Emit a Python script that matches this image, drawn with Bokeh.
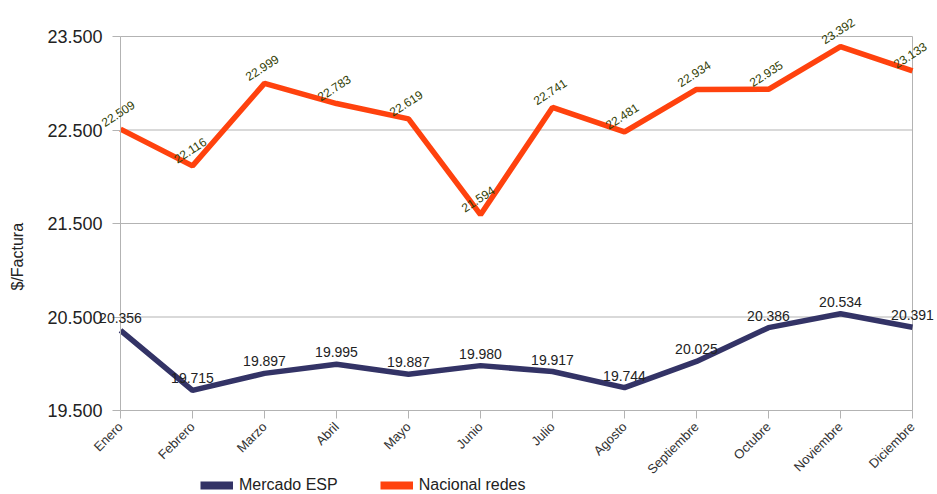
from math import pi
from bokeh.plotting import figure
from bokeh.layouts import column
from bokeh.models import (ColumnDataSource, Label, Legend, LegendItem, Title,
                          NumeralTickFormatter, FixedTicker, Range1d)
from bokeh.embed import file_html
from bokeh.resources import INLINE

months = ["Enero", "Febrero", "Marzo", "Abril", "Mayo", "Junio", "Julio",
          "Agosto", "Septiembre", "Octubre", "Noviembre", "Diciembre"]
mercado_esp = [20.356, 19.715, 19.897, 19.995, 19.887, 19.980, 19.917,
               19.744, 20.025, 20.386, 20.534, 20.391]
nacional_redes = [22.509, 22.116, 22.999, 22.783, 22.619, 21.594, 22.741,
                  22.481, 22.934, 22.935, 23.392, 23.133]
y_ticks = [19.5, 20.5, 21.5, 22.5, 23.5]
series_names = ["Mercado ESP", "Nacional redes"]
y_title = "$/Factura"

NAVY = "#333366"
ORANGE = "#ff420e"
GRID = "#b3b3b3"
FONT = "Liberation Sans"

idx = list(range(len(months)))
src = ColumnDataSource(dict(x=idx, m=mercado_esp, n=nacional_redes))

# ---- layout (pixels) ----
W, H = 935, 476
FR_L, FR_R, FR_T, FR_B = 30, 935, 2, 476          # drawing frame (wide, so labels are not clipped)
AX_L, AX_R, AX_T, AX_B = 120, 912, 36, 410         # where the chart's axes sit
px_x = (AX_R - AX_L) / (idx[-1] - idx[0])
px_y = (AX_B - AX_T) / (y_ticks[-1] - y_ticks[0])
x_range = Range1d(idx[0] - (AX_L - FR_L) / px_x, idx[-1] + (FR_R - AX_R) / px_x)
y_range = Range1d(y_ticks[0] - (FR_B - AX_B) / px_y, y_ticks[-1] + (AX_T - FR_T) / px_y)

p = figure(width=W, height=H, output_backend="svg", toolbar_location=None,
           x_range=x_range, y_range=y_range,
           min_border_left=FR_L, min_border_right=W - FR_R,
           min_border_top=FR_T, min_border_bottom=H - FR_B)

p.background_fill_color = "white"
p.border_fill_color = "white"
p.outline_line_color = None
p.xgrid.grid_line_color = None
p.ygrid.grid_line_color = None

# gridlines and right border of the plot area
n_t = len(y_ticks)
p.segment(x0=[idx[0]] * n_t, x1=[idx[-1]] * n_t, y0=y_ticks, y1=y_ticks,
          line_color=GRID, line_width=1)
p.segment(x0=[idx[-1]], x1=[idx[-1]], y0=[y_ticks[0]], y1=[y_ticks[-1]],
          line_color=GRID, line_width=1)

# x axis, drawn at the lowest tick
p.xaxis.fixed_location = y_ticks[0]
p.xaxis.bounds = (idx[0], idx[-1])
p.xaxis.ticker = FixedTicker(ticks=idx)
p.xaxis.major_label_overrides = {i: m for i, m in zip(idx, months)}
p.xaxis.major_label_orientation = pi / 4
p.xaxis.major_label_text_font = FONT
p.xaxis.major_label_text_font_size = "13px"
p.xaxis.major_label_text_color = "#333333"
p.xaxis.axis_line_color = GRID
p.xaxis.major_tick_line_color = GRID
p.xaxis.major_tick_out = 8
p.xaxis.major_tick_in = 0
p.xaxis.minor_tick_line_color = None
p.xaxis.major_label_standoff = 6

# y axis, drawn at the first month
p.yaxis.fixed_location = idx[0]
p.yaxis.bounds = (y_ticks[0], y_ticks[-1])
p.yaxis.ticker = FixedTicker(ticks=y_ticks)
p.yaxis.formatter = NumeralTickFormatter(format="0.000")
p.yaxis.major_label_text_font = FONT
p.yaxis.major_label_text_font_size = "18px"
p.yaxis.major_label_text_color = "#222222"
p.yaxis.axis_line_color = GRID
p.yaxis.major_tick_line_color = GRID
p.yaxis.major_tick_out = 8
p.yaxis.major_tick_in = 0
p.yaxis.minor_tick_line_color = None
p.yaxis.major_label_standoff = 10

p.add_layout(Title(text=y_title, align="left", offset=186, text_font=FONT,
                   text_font_size="16px", text_font_style="normal",
                   text_color="#222222"), "left")

p.line("x", "m", source=src, line_color=NAVY, line_width=5.5)
p.line("x", "n", source=src, line_color=ORANGE, line_width=5.5)

for xi, v in zip(idx, mercado_esp):
    p.add_layout(Label(x=xi, y=v, text=f"{v:.3f}", text_align="center",
                       text_baseline="bottom", y_offset=7, text_font=FONT,
                       text_font_size="14px", text_color="#222222"))
for xi, v in zip(idx, nacional_redes):
    p.add_layout(Label(x=xi, y=v, text=f"{v:.3f}", angle=33, angle_units="deg",
                       text_align="center", text_baseline="bottom", y_offset=12,
                       text_font=FONT, text_font_size="12px",
                       text_color="#314004"))

# ---- legend strip below the chart ----
LH = 18
pl = figure(width=W, height=LH, output_backend="svg", toolbar_location=None,
            x_range=Range1d(0, 1), y_range=Range1d(0, 1),
            min_border_left=0, min_border_right=0, min_border_top=0,
            min_border_bottom=0)
pl.axis.visible = False
pl.grid.visible = False
pl.outline_line_color = None
pl.background_fill_color = "white"
lr1 = pl.line(x=[-2, -1], y=[-2, -1], line_color=NAVY, line_width=8)
lr2 = pl.line(x=[-2, -1], y=[-2, -1], line_color=ORANGE, line_width=8)
legend = Legend(items=[LegendItem(label=series_names[0], renderers=[lr1]),
                       LegendItem(label=series_names[1], renderers=[lr2])],
                orientation="horizontal", location=(200 - FR_L, 0))
legend.border_line_color = None
legend.background_fill_alpha = 0
legend.padding = 0
legend.margin = 0
legend.spacing = 42
legend.label_standoff = 6
legend.glyph_width = 33
legend.glyph_height = LH
legend.label_height = LH
legend.label_text_font = FONT
legend.label_text_font_size = "16px"
legend.label_text_color = "#222222"
pl.add_layout(legend)

open("out.html", "w").write(file_html(column(p, pl), INLINE))
